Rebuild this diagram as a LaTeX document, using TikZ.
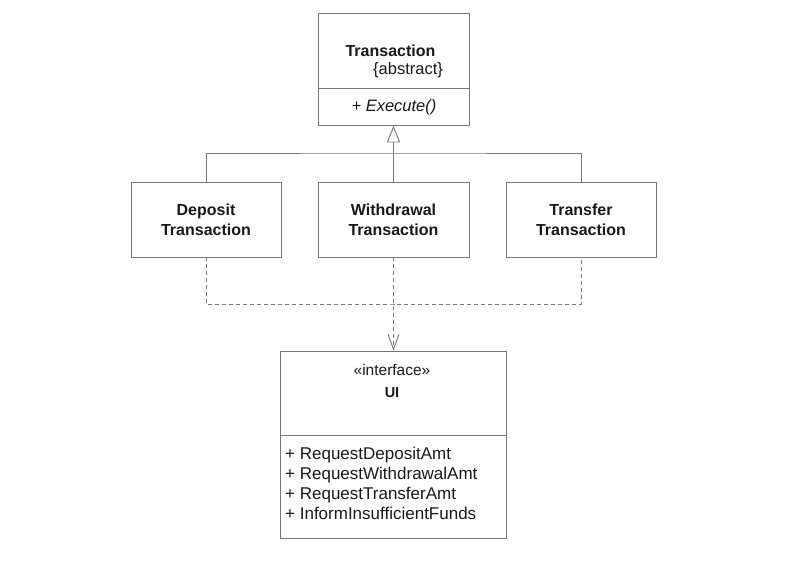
\documentclass[tikz,border=0pt]{standalone}
\usepackage{fontspec}
\setmainfont{Liberation Sans}
\usetikzlibrary{arrows.meta}
\definecolor{ln}{RGB}{120,120,120}
\definecolor{tx}{RGB}{25,25,25}
\begin{document}
\begin{tikzpicture}[x=1pt,y=-1pt,
  box/.style={draw=ln, line width=0.9pt, rectangle, inner sep=0pt, fill=white},
  ttl/.style={font=\fontsize{16}{20}\selectfont\bfseries, text=tx, align=center, inner sep=0pt},
  reg/.style={font=\fontsize{16.5}{20}\selectfont, text=tx, inner sep=0pt},
  meth/.style={font=\fontsize{17}{20}\selectfont, text=tx, inner sep=0pt, anchor=base west},
  conn/.style={draw=ln, line width=0.9pt},
  dep/.style={conn, dash pattern=on 4pt off 3pt}]
\useasboundingbox (0,0) rectangle (798,574);
\fill[white] (0,0) rectangle (798,574);
% abstract class
\node[box, minimum width=151pt, minimum height=112pt] (T) at (393.5,69) {};
\draw[conn] (T.west |- 0,88) -- (T.east |- 0,88);
\node[ttl, anchor=base] (Tname) at (390.5,56) {Transaction};
\node[reg, anchor=base west] (Tabs) at (373,74) {\{abstract\}};
\node[reg, anchor=base, font=\fontsize{16.5}{20}\selectfont\itshape] (Texe) at (394,111) {+ Execute()};
% subclasses
\node[box, ttl, minimum width=150pt, minimum height=75pt] (D) at (206,219.5) {Deposit\\Transaction};
\node[box, ttl, minimum width=151pt, minimum height=75pt] (W) at (393.5,219.5) {Withdrawal\\Transaction};
\node[box, ttl, minimum width=150pt, minimum height=75pt] (X) at (581,219.5) {Transfer\\Transaction};
% interface
\node[box, minimum width=226pt, minimum height=187pt] (UI) at (393.5,444.5) {};
\draw[conn] (UI.west |- 0,435) -- (UI.east |- 0,435);
\node[reg, anchor=base, font=\fontsize{15.5}{20}\selectfont] (st) at (392,375.5) {«interface»};
\node[ttl, anchor=base, font=\fontsize{14.5}{18}\selectfont\bfseries] (uin) at (392,397) {UI};
\node[meth] (m1) at (285,459) {+ RequestDepositAmt};
\node[meth] (m2) at (285,479) {+ RequestWithdrawalAmt};
\node[meth] (m3) at (285,499) {+ RequestTransferAmt};
\node[meth] (m4) at (285,519) {+ InformInsufficientFunds};
% generalization
\coordinate (junc) at (393.5,153);
\draw[conn] (D.north) |- (junc) -| (X.north);
\draw[conn, -{Triangle[open, length=17pt, width=13pt, fill=white]}] (W.north) -- (T.south);
% dependencies
\coordinate (djunc) at (393.5,304);
\draw[dep] (D.south) |- (djunc) -| (X.south);
\draw[dep, -{Straight Barb[length=15pt, width=11pt]}] (W.south) -- (UI.north);
\end{tikzpicture}
\end{document}
